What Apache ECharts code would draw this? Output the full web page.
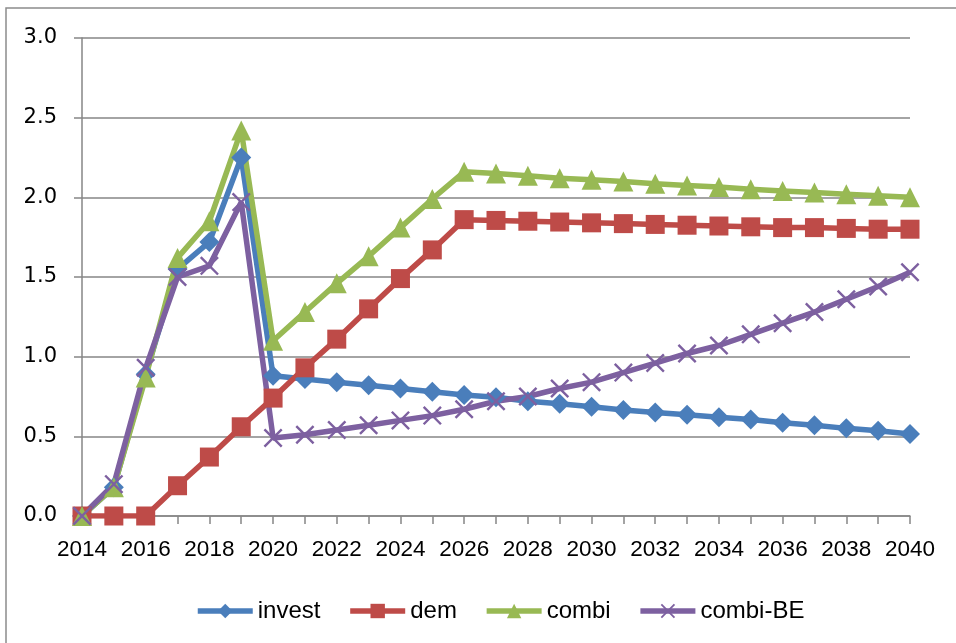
<!DOCTYPE html>
<html>
<head>
<meta charset="utf-8">
<script src="https://cdn.jsdelivr.net/npm/echarts@6/dist/echarts.min.js"></script>
<style>
  html, body { margin: 0; padding: 0; background: #fff; }
  #chart { width: 956px; height: 643px; }
</style>
</head>
<body>
<div id="chart"></div>
<script>
var years = [];
for (var y = 2014; y <= 2040; y++) years.push(String(y));

var invest = [0, 0.18, 0.89, 1.55, 1.72, 2.25, 0.88, 0.86, 0.84, 0.82, 0.80, 0.78, 0.76, 0.745, 0.72, 0.705,
  0.685, 0.665, 0.65, 0.635, 0.62, 0.605, 0.585, 0.57, 0.55, 0.535, 0.515];
var dem = [0, 0, 0, 0.19, 0.37, 0.56, 0.74, 0.93, 1.11, 1.30, 1.49, 1.67, 1.86, 1.855, 1.85, 1.845,
  1.84, 1.835, 1.83, 1.825, 1.82, 1.815, 1.81, 1.81, 1.805, 1.80, 1.80];
var combi = [0, 0.18, 0.87, 1.62, 1.85, 2.42, 1.10, 1.28, 1.46, 1.63, 1.81, 1.99, 2.16, 2.15, 2.135, 2.12,
  2.11, 2.10, 2.085, 2.075, 2.065, 2.05, 2.04, 2.03, 2.02, 2.01, 2.00];
var combiBE = [0, 0.20, 0.93, 1.50, 1.57, 1.97, 0.49, 0.51, 0.54, 0.57, 0.60, 0.63, 0.67, 0.72, 0.75, 0.80,
  0.84, 0.90, 0.96, 1.02, 1.07, 1.14, 1.21, 1.28, 1.36, 1.44, 1.53];

// thin "x" marker like the spreadsheet one
var xPath = 'path://M0,0.9L0.9,0L10,9.1L9.1,10ZM9.1,0L10,0.9L0.9,10L0,9.1Z';

function mk(name, data, color, symbol, size) {
  return {
    name: name,
    type: 'line',
    data: data,
    symbol: symbol,
    symbolSize: size,
    showAllSymbol: true,
    lineStyle: { color: color, width: 5.5 },
    itemStyle: { color: color },
    emphasis: { disabled: true },
    animation: false
  };
}

var sans = '"Liberation Sans", sans-serif';

var chart = echarts.init(document.getElementById('chart'));
chart.setOption({
  backgroundColor: '#fff',
  graphic: [{
    type: 'rect',
    shape: { x: 6, y: 8, width: 1000, height: 700 },
    style: { fill: 'none', stroke: '#8c8c8c', lineWidth: 1.5 },
    silent: true
  }],
  grid: { left: 82, right: 46, top: 38, bottom: 127 },
  legend: {
    top: 594,
    left: 190,
    itemWidth: 55,
    itemHeight: 18,
    itemGap: 27,
    lineStyle: { width: 5.5 },
    textStyle: { fontFamily: sans, fontSize: 24, color: '#000' },
    data: ['invest', 'dem', 'combi', 'combi-BE']
  },
  xAxis: {
    type: 'category',
    data: years,
    boundaryGap: false,
    axisLine: { lineStyle: { color: '#868686', width: 1.5 } },
    axisTick: { interval: 0, length: 8, lineStyle: { color: '#868686', width: 1.5 } },
    axisLabel: {
      interval: 1, margin: 22, color: '#000', fontSize: 22.5, fontFamily: sans
    },
    splitLine: { show: false }
  },
  yAxis: {
    type: 'value',
    min: 0, max: 3, interval: 0.5,
    axisLine: { show: true, lineStyle: { color: '#868686', width: 1.5 } },
    axisTick: { show: true, length: 8, lineStyle: { color: '#868686', width: 1.5 } },
    axisLabel: {
      margin: 25, color: '#000', fontSize: 21, fontFamily: '"DejaVu Sans", Verdana, sans-serif',
      formatter: function (v) { return v.toFixed(1); }
    },
    splitLine: { lineStyle: { color: '#868686', width: 1.5 } }
  },
  series: [
    mk('invest', invest, '#4A7EBB', 'diamond', 20),
    mk('dem', dem, '#BE4B48', 'rect', 19),
    mk('combi', combi, '#98B954', 'triangle', 20),
    mk('combi-BE', combiBE, '#7D60A0', xPath, 19)
  ]
});
</script>
</body>
</html>
